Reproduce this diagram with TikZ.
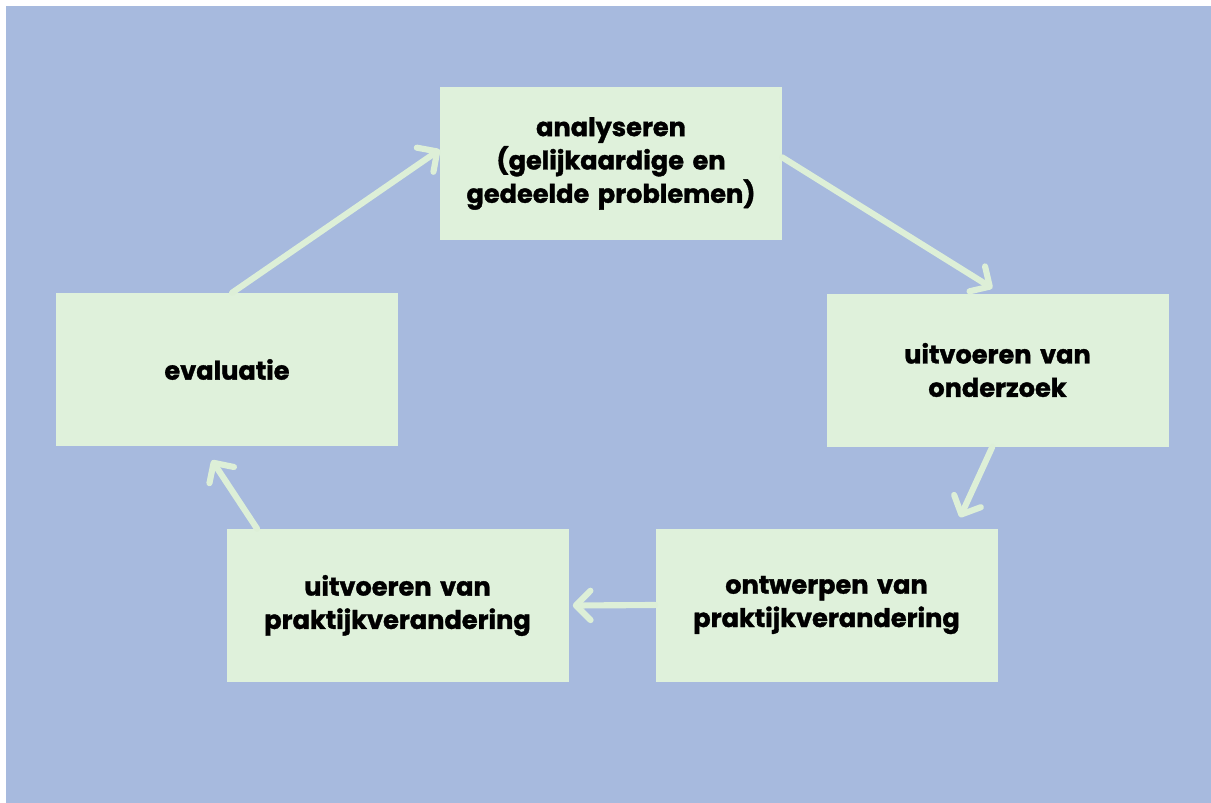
\documentclass[tikz,border=0pt]{standalone}
\usepackage{fontspec}
\setmainfont{Poppins}[BoldFeatures={FakeBold=1.4}]
\usetikzlibrary{arrows.meta,calc}
\definecolor{bgblue}{RGB}{167,186,222}
\definecolor{boxgreen}{RGB}{223,241,219}
\definecolor{arrowgreen}{RGB}{221,239,215}
\tikzset{
  stagebox/.style={fill=boxgreen, draw=none, inner sep=0pt, minimum width=256.5pt, minimum height=114.75pt,
    text width=252pt, align=center, font=\fontsize{19.2pt}{25pt}\selectfont\bfseries, text=black},
  flow/.style={draw=arrowgreen, line width=4.6pt, line cap=round,
    -{Straight Barb[length=11pt, width=22pt, round]}}
}
\begin{document}
\begin{tikzpicture}[x=0.75pt,y=-0.75pt]
\useasboundingbox (0,0) rectangle (1211,803);
\fill[white] (0,0) rectangle (1211,803);
\fill[bgblue] (6,6) rectangle (1211,803);
\node[stagebox] (ana) at (611,163.5) {analyseren\\(gelijkaardige en\\gedeelde problemen)};
\node[stagebox] (ond) at (997.5,370) {uitvoeren van\\onderzoek};
\node[stagebox] (ont) at (826.5,605) {ontwerpen van\\praktijkverandering};
\node[stagebox] (uit) at (397.5,605.5) {uitvoeren van\\praktijkverandering};
\node[stagebox] (eva) at (227,369.5) {evaluatie};
\draw[flow] ($(eva.north west)!0.515!(eva.north east)$) -- ($(ana.north west)!0.41!(ana.south west)$);
\draw[flow] ($(ana.north east)!0.46!(ana.south east)$) -- ($(ond.north west)!0.485!(ond.north east)+(0,-5)$);
\draw[flow] ($(ond.south west)!0.485!(ond.south east)$) -- ($(ont.north west)!0.89!(ont.north east)+(0,-11)$);
\draw[flow] (ont.west) -- ($(uit.east)+(4,0)$);
\draw[flow] ($(uit.north west)!0.09!(uit.north east)$) -- ($(eva.south west)!0.456!(eva.south east)+(0,14)$);
\end{tikzpicture}
\end{document}
